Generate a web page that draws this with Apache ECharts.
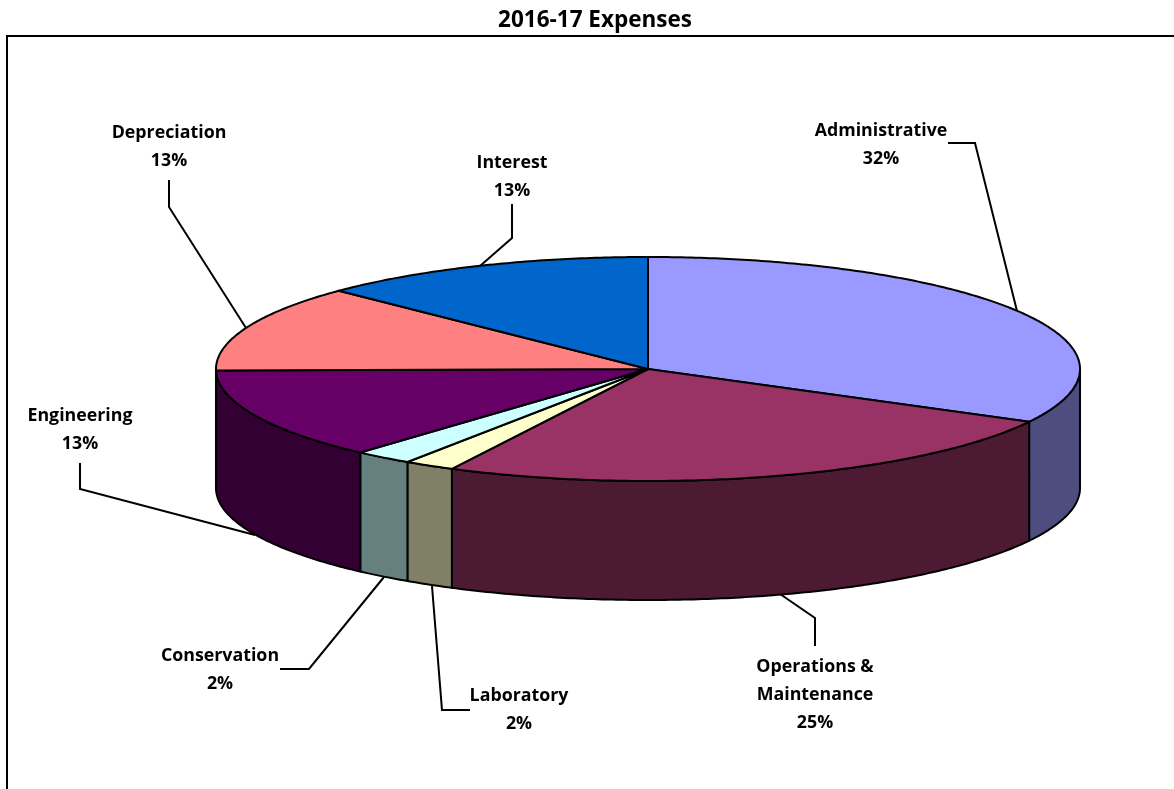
<!DOCTYPE html>
<html><head><meta charset="utf-8">
<style>html,body{margin:0;padding:0;background:#fff}#c{width:1174px;height:789px}</style>
<script src="https://cdn.jsdelivr.net/npm/echarts@6/dist/echarts.min.js"></script>
</head><body><div id="c"></div>
<script>
const categories = ['Administrative','Operations & Maintenance','Laboratory','Conservation','Engineering','Depreciation','Interest'];
const shares = [32.8,24.7,1.9,2.2,13.2,12.5,12.7];
const labelPercents = ['32%','25%','2%','2%','13%','13%','13%'];
const topColors = ['#9999FF','#993366','#FFFFCC','#CCFFFF','#660066','#FF8080','#0066CC'];
const sideColors = ['#4D4D80','#4D1A33','#808066','#668080','#330033','#804040','#003366'];
const labelLines = [
  ['Administrative\n32%',881,145,[[948,143],[975,143],[1017,311]]],
  ['Operations &\nMaintenance\n25%',815,695,[[780,594],[815,618],[815,646]]],
  ['Laboratory\n2%',519,710,[[432,586],[442,710],[470,710]]],
  ['Conservation\n2%',220,670,[[384,577],[309,669],[280,669]]],
  ['Engineering\n13%',80,430,[[255,535],[80,489],[80,463]]],
  ['Depreciation\n13%',169,147,[[246,328],[169,207],[169,180]]],
  ['Interest\n13%',512,177,[[480,266],[512,238],[512,204]]]
];
const cx=648, cy=369, rx=432, ry=112, depth=119;
const total = shares.reduce((a,b)=>a+b,0);
function pt(t,dy){return [cx+rx*Math.sin(t), cy+(dy||0)-ry*Math.cos(t)];}
function arcPts(a,b,dy){const n=Math.max(2,Math.ceil(Math.abs(b-a)*90));const r=[];for(let i=0;i<=n;i++)r.push(pt(a+(b-a)*i/n,dy));return r;}
let acc=0; const spans=shares.map(v=>{const a=acc/total*2*Math.PI;acc+=v;return [a,acc/total*2*Math.PI];});
const lineStyle={stroke:'#000',lineWidth:2,fill:null};
function renderItem(params){
  const i=params.dataIndex, [a,b]=spans[i], kids=[];
  const fa=Math.max(a,Math.PI/2), fb=Math.min(b,1.5*Math.PI);
  const wall = fa<fb ? arcPts(fa,fb,0).concat(arcPts(fb,fa,depth)) : null;
  if(wall) kids.push({type:'polygon',shape:{points:wall},style:{fill:sideColors[i],stroke:'#000',lineWidth:2,lineJoin:'round'}});
  const top=[[cx,cy]].concat(arcPts(a,b,0));
  kids.push({type:'polygon',shape:{points:top},style:{fill:topColors[i],stroke:'#000',lineWidth:2,lineJoin:'round'}});
  return {type:'group',children:kids};
}
function renderLeaders(params){
  const l=labelLines[params.dataIndex];
  return {type:'group',children:[
    {type:'polyline',shape:{points:l[3]},style:lineStyle},
    {type:'text',style:{text:l[0],x:l[1],y:l[2],align:'center',verticalAlign:'middle',fontFamily:'Open Sans',fontWeight:700,fontSize:17.8,lineHeight:28,fill:'#000'}}
  ]};
}
const chart=echarts.init(document.getElementById('c'),null,{renderer:'canvas'});
chart.setOption({
  animation:false,
  backgroundColor:'#fff',
  title:{text:'2016-17 Expenses',left:595,top:21,textAlign:'center',textVerticalAlign:'middle',textStyle:{fontFamily:'Open Sans',fontWeight:700,fontSize:22.5,color:'#000'},padding:0},
  graphic:[{type:'rect',shape:{x:7,y:36,width:1172,height:760},style:{fill:null,stroke:'#000',lineWidth:2},silent:true}],
  series:[
    {type:'custom',coordinateSystem:'none',data:shares,renderItem,silent:true,z:2},
    {type:'custom',coordinateSystem:'none',data:categories,renderItem:renderLeaders,silent:true,z:1}
  ]
});
</script></body></html>
